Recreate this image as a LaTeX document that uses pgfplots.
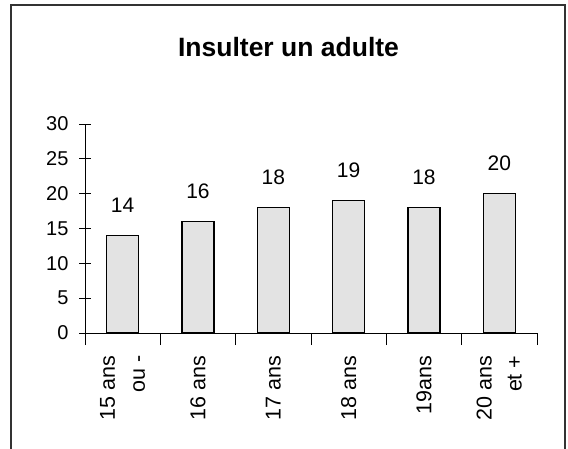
\documentclass[border=0pt]{standalone}
\usepackage{pgfplots}
\pgfplotsset{compat=1.18}
\usepackage{fontspec}
\setmainfont{Liberation Sans}
\definecolor{barfill}{RGB}{227,227,227}
\begin{document}
\begin{tikzpicture}[x=1pt,y=1pt]
\useasboundingbox (0,0) rectangle (568,448);
\draw[line width=1.3pt, black!80] (11,-3) rectangle (565,443);
\node[font=\fontsize{26.5}{30}\selectfont\bfseries] at (288.5,400.5) {Insulter un adulte};
\begin{axis}[
  at={(85pt,115pt)}, anchor=south west,
  scale only axis, width=452pt, height=209pt,
  xmin=-0.5, xmax=5.5, ymin=0, ymax=30,
  axis x line*=bottom, axis y line*=left,
  axis line style={line width=1pt},
  ytick={0,5,...,30},
  xtick={-0.5,0.5,...,5.5},
  x tick label as interval,
  xticklabels={{15 ans\\ou -},{16 ans},{17 ans},{18 ans},{19ans},{20 ans\\et +}},
  tick align=center, major tick length=12pt,
  tick style={line width=1pt, black},
  /pgf/number format/assume math mode=true,
  yticklabel style={font=\fontsize{20}{24}\selectfont, anchor=east, xshift=-7pt},
  xticklabel style={font=\fontsize{21.5}{30}\selectfont, yshift=-7pt, rotate=90, anchor=east, align=right},
  ybar, bar width=32pt,
  nodes near coords,
  every node near coord/.append style={font=\fontsize{21}{24}\selectfont, anchor=center, yshift=30pt},
  clip=false,
]
\addplot[draw=black, line width=1.3pt, fill=barfill] coordinates {(0,14) (1,16) (2,18) (3,19) (4,18) (5,20)};
\end{axis}
\end{tikzpicture}
\end{document}
